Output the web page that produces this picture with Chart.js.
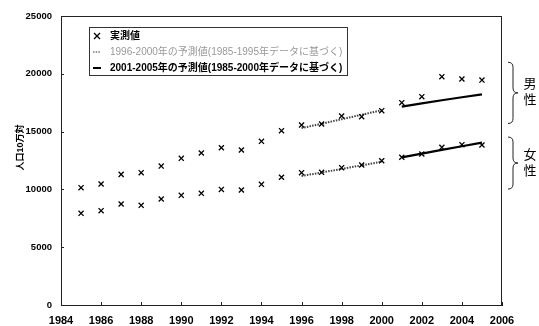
<!DOCTYPE html>
<html>
<head>
<meta charset="utf-8">
<script src="https://cdn.jsdelivr.net/npm/chart.js@4/dist/chart.umd.min.js"></script>
<style>
  html, body { margin: 0; padding: 0; background: #fff; }
  #wrap { width: 539px; height: 326px; }
</style>
</head>
<body>
<div id="wrap"><canvas id="c"></canvas></div>
<script>
// Observed population rates (per 100,000), 1985-2005
const years = [1985,1986,1987,1988,1989,1990,1991,1992,1993,1994,1995,1996,1997,1998,1999,2000,2001,2002,2003,2004,2005];
const maleObs   = [10150,10470,11300,11450,12020,12690,13150,13600,13410,14160,15080,15570,15660,16350,16290,16810,17500,18020,19750,19550,19460];
const femaleObs = [7930,8160,8740,8620,9170,9490,9660,10000,9950,10440,11050,11450,11480,11880,12110,12480,12780,13060,13640,13870,13840];

// Projection 1996-2000 (based on 1985-1995 data)
const predYears1   = [1996,1997,1998,1999,2000];
const malePred1    = [15300,15680,16070,16460,16850];
const femalePred1  = [11160,11460,11770,12080,12400];

// Projection 2001-2005 (based on 1985-2000 data)
const predYears2   = [2001,2002,2003,2004,2005];
const malePred2    = [17160,17440,17710,17970,18220];
const femalePred2  = [12770,13100,13420,13730,14040];

// Axis ranges and labels
const xTicks = [1984,1986,1988,1990,1992,1994,1996,1998,2000,2002,2004,2006];
const yTicks = [0,5000,10000,15000,20000,25000];
const yTitle = '人口10万対';
const legendLabels = ['実測値', '1996-2000年の予測値(1985-1995年データに基づく)', '2001-2005年の予測値(1985-2000年データに基づく)'];
const groups = [
  { label: ['男', '性'], from: 21000, to: 15700 },
  { label: ['女', '性'], from: 14530, to: 10030 }
];

const FONT = "'Liberation Sans', 'Noto Sans CJK JP', sans-serif";
const pts = (xs, ys) => xs.map((x, i) => ({ x: x, y: ys[i] }));

const obsStyle = { showLine: false, pointStyle: 'crossRot', pointRadius: 3.6, borderColor: '#000', backgroundColor: '#000', pointBorderWidth: 1.3 };
const dotStyle = { showLine: true, pointRadius: 0, borderColor: '#444', borderWidth: 2, borderDash: [1.5, 1.2], tension: 0 };
const solidStyle = { showLine: true, pointRadius: 0, borderColor: '#000', borderWidth: 2.2, tension: 0 };

// Plot frame, inner ticks, legend box, y title and group braces
const decorations = {
  id: 'decorations',
  afterDraw(chart) {
    const ctx = chart.ctx;
    const a = chart.chartArea;
    const xs = chart.scales.x, ys = chart.scales.y;
    ctx.save();

    // frame
    ctx.strokeStyle = '#222';
    ctx.lineWidth = 1;
    ctx.strokeRect(a.left + 0.5, a.top + 0.5, a.right - a.left - 1, a.bottom - a.top);

    // inner tick marks
    ctx.beginPath();
    xTicks.forEach(v => {
      const px = Math.round(xs.getPixelForValue(v)) + 0.5;
      ctx.moveTo(px, a.bottom); ctx.lineTo(px, a.bottom - 3);
    });
    yTicks.forEach(v => {
      const py = Math.round(ys.getPixelForValue(v)) + 0.5;
      ctx.moveTo(a.left, py); ctx.lineTo(a.left + 3, py);
    });
    ctx.stroke();

    // legend
    const lx = a.left + 28, ly = a.top + 11, lw = 258, lh = 48;
    ctx.fillStyle = '#fff';
    ctx.fillRect(lx, ly, lw, lh);
    ctx.strokeStyle = '#333';
    ctx.lineWidth = 1;
    ctx.strokeRect(lx + 0.5, ly + 0.5, lw, lh);
    const rows = [ly + 9, ly + 25, ly + 41];
    const sx = lx + 8;
    // marker
    ctx.strokeStyle = '#000'; ctx.lineWidth = 1.3;
    ctx.beginPath();
    ctx.moveTo(sx - 3, rows[0] - 3); ctx.lineTo(sx + 3, rows[0] + 3);
    ctx.moveTo(sx + 3, rows[0] - 3); ctx.lineTo(sx - 3, rows[0] + 3);
    ctx.stroke();
    // dotted
    ctx.strokeStyle = '#777'; ctx.lineWidth = 1.5; ctx.setLineDash([1.5, 1.2]);
    ctx.beginPath(); ctx.moveTo(sx - 4, rows[1]); ctx.lineTo(sx + 4, rows[1]); ctx.stroke();
    ctx.setLineDash([]);
    // solid
    ctx.strokeStyle = '#000'; ctx.lineWidth = 2;
    ctx.beginPath(); ctx.moveTo(sx - 4, rows[2]); ctx.lineTo(sx + 4, rows[2]); ctx.stroke();

    ctx.textBaseline = 'middle';
    ctx.textAlign = 'left';
    ctx.fillStyle = '#000';
    ctx.font = 'bold 10px ' + FONT;
    ctx.fillText(legendLabels[0], lx + 21, rows[0]);
    ctx.fillStyle = '#999';
    ctx.font = '10px ' + FONT;
    ctx.fillText(legendLabels[1], lx + 21, rows[1]);
    ctx.fillStyle = '#000';
    ctx.font = 'bold 10px ' + FONT;
    ctx.fillText(legendLabels[2], lx + 21, rows[2]);

    // y axis title
    ctx.save();
    ctx.translate(21, (a.top + a.bottom) / 2 - 13);
    ctx.rotate(-Math.PI / 2);
    ctx.textAlign = 'center';
    ctx.font = 'bold 9px ' + FONT;
    ctx.fillText(yTitle, 0, 0);
    ctx.restore();

    // group braces with labels
    ctx.strokeStyle = '#222';
    ctx.lineWidth = 1;
    groups.forEach(g => {
      const t = ys.getPixelForValue(g.from);
      const b = ys.getPixelForValue(g.to);
      const m = (t + b) / 2;
      const x0 = a.right + 6, x1 = a.right + 11, x2 = a.right + 16;
      ctx.beginPath();
      ctx.moveTo(x0, t);
      ctx.quadraticCurveTo(x1, t, x1, t + 5);
      ctx.lineTo(x1, m - 5);
      ctx.quadraticCurveTo(x1, m, x2, m);
      ctx.quadraticCurveTo(x1, m, x1, m + 5);
      ctx.lineTo(x1, b - 5);
      ctx.quadraticCurveTo(x1, b, x0, b);
      ctx.stroke();
      ctx.fillStyle = '#000';
      ctx.font = '13px ' + FONT;
      ctx.textAlign = 'center';
      ctx.fillText(g.label[0], a.right + 28, m - 8);
      ctx.fillText(g.label[1], a.right + 28, m + 8);
    });

    ctx.restore();
  }
};

new Chart(document.getElementById('c'), {
  type: 'scatter',
  data: {
    datasets: [
      Object.assign({ label: '実測値 男性', data: pts(years, maleObs) }, obsStyle),
      Object.assign({ label: '実測値 女性', data: pts(years, femaleObs) }, obsStyle),
      Object.assign({ label: '予測値1 男性', data: pts(predYears1, malePred1) }, dotStyle),
      Object.assign({ label: '予測値1 女性', data: pts(predYears1, femalePred1) }, dotStyle),
      Object.assign({ label: '予測値2 男性', data: pts(predYears2, malePred2) }, solidStyle),
      Object.assign({ label: '予測値2 女性', data: pts(predYears2, femalePred2) }, solidStyle)
    ]
  },
  options: {
    responsive: true,
    maintainAspectRatio: false,
    animation: false,
    layout: { padding: { top: 16, right: 37, left: 0, bottom: 0 } },
    plugins: { legend: { display: false }, tooltip: { enabled: false } },
    scales: {
      x: {
        type: 'linear', min: 1984, max: 2006,
        afterBuildTicks: s => { s.ticks = xTicks.map(v => ({ value: v })); },
        afterFit: s => { s.height = 21; },
        ticks: { callback: v => String(v), color: '#000', padding: 9, maxRotation: 0, autoSkip: false,
                 font: { family: FONT, size: 11, weight: 'bold' } },
        grid: { drawOnChartArea: false, drawTicks: false },
        border: { color: '#000' }
      },
      y: {
        min: 0, max: 25000,
        afterBuildTicks: s => { s.ticks = yTicks.map(v => ({ value: v })); },
        afterFit: s => { s.width = 61; },
        ticks: { callback: v => String(v), color: '#000', padding: 9,
                 font: { family: FONT, size: 9.5, weight: 'bold' } },
        grid: { drawOnChartArea: false, drawTicks: false },
        border: { color: '#000' }
      }
    }
  },
  plugins: [decorations]
});
</script>
</body>
</html>
